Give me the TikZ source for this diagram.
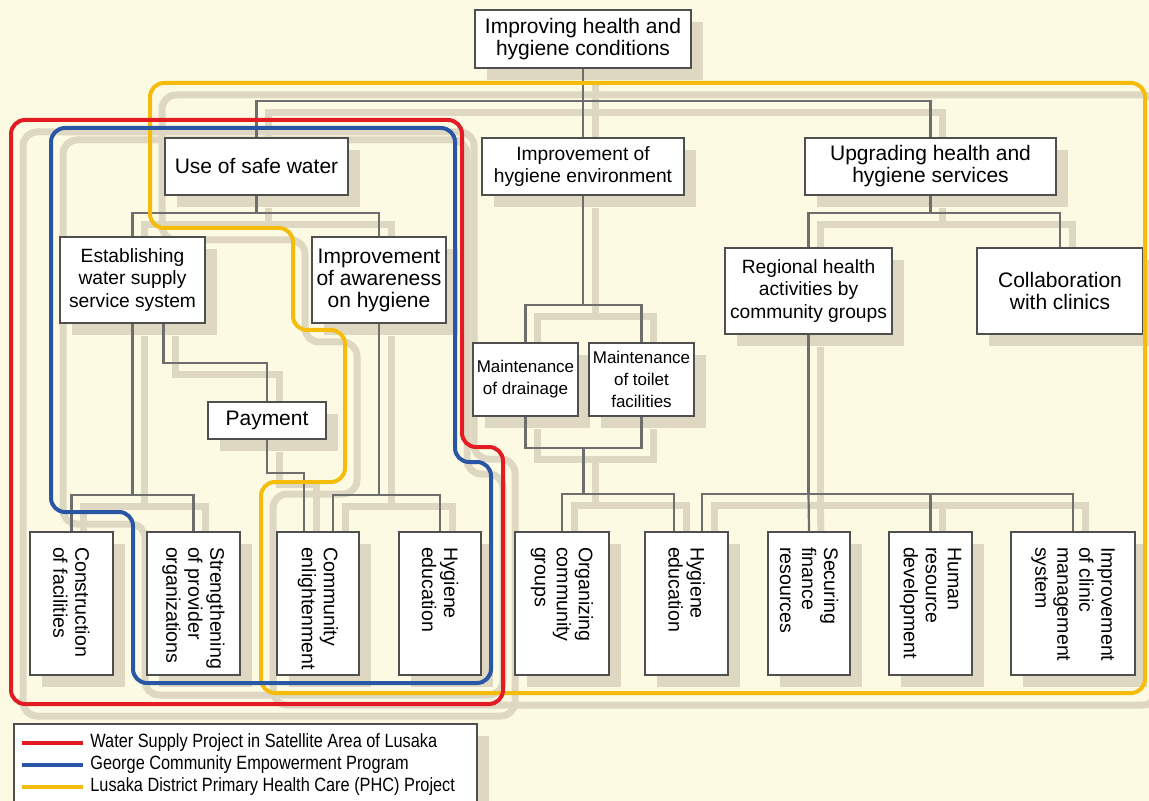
\documentclass[tikz,border=0pt]{standalone}
\usepackage{graphicx}
\usepackage{fontspec}
\setmainfont{Liberation Sans}
\newfontfamily\narrowfont{Liberation Sans}[FakeStretch=0.85]
\usetikzlibrary{calc,shadows}

\definecolor{cream}{HTML}{FDFAE4}
\definecolor{shade}{HTML}{DED8C3}
\definecolor{linkgray}{HTML}{6E6E6E}
\definecolor{boxgray}{HTML}{4F4F4F}
\definecolor{projred}{HTML}{E31B23}
\definecolor{projblue}{HTML}{2A56A6}
\definecolor{projyellow}{HTML}{F5BC0C}

\pgfdeclarelayer{back}
\pgfsetlayers{back,main}
\hyphenpenalty=10000

% text of the bottom boxes, turned
\newcommand{\leaftext}[1]{\rotatebox{-90}{\parbox{56.5pt}{\raggedright\fontsize{9.8}{11}\selectfont #1}}}

% tree connectors, #1 = style (shadow or line)
\newcommand{\treelinks}[1]{%
    % top level
    \draw[#1] (top.south) -- ++(0,32) coordinate (j0);
    \draw[#1] (safe.north) |- (j0) -| (upgrade.north);
    \draw[#1] (j0) -- (hygenv.north);
    % use of safe water
    \draw[#1] (safe.south) -- ++(0,17) coordinate (j1);
    \draw[#1] (estab.north) |- (j1) -| (aware.north);
    \draw[#1] (estab.south) -- ++(0,171) coordinate (j2);
    \draw[#1] (constr.north) |- (j2) -| (streng.north);
    \draw[#1] ($(estab.south)+(31,0)$) -- ++(0,39) -| (payment.north);
    \draw[#1] (payment.south) -- ++(0,33) -| ($(commun.north)+(-14,0)$);
    \draw[#1] (aware.south) -- ++(0,171) coordinate (j3);
    \draw[#1] ($(commun.north)+(15,0)$) |- (j3) -| (hyged1.north);
    % hygiene environment
    \draw[#1] (hygenv.south) -- ++(0,109) coordinate (j4);
    \draw[#1] (drain.north) |- (j4) -| (toilet.north);
    \coordinate (j5) at ($(drain.south)!0.5!(toilet.south)+(0,31)$);
    \draw[#1] (drain.south) |- (j5) -| (toilet.south);
    \draw[#1] (j5) -- ++(0,46) coordinate (j6);
    \draw[#1] (organ.north) |- (j6) -| ($(hyged2.north)+(-12.5,0)$);
    % health services
    \draw[#1] (upgrade.south) -- ++(0,17) coordinate (j7);
    \draw[#1] (regional.north) |- (j7) -| (collab.north);
    \draw[#1] (regional.south) -- ++(0,159) coordinate (j8);
    \draw[#1] ($(hyged2.north)+(15.5,0)$) |- (j8) -| (clinic.north);
    \draw[#1] (j8) -- (secur.north);
    \draw[#1] (human.north) -- (human.north |- j8);
}

% project outlines, #1 red #2 blue #3 yellow
\newcommand{\projectloops}[3]{%
    \draw[#3] (150,83) -- (1145,83) -- (1145,693) -- (261,693) -- (261,482) -- (345,482)
        -- (345,330) -- (293,330) -- (293,228) -- (150,228) -- cycle;
    \draw[#2] (51,128) -- (455,128) -- (455,462) -- (491,462) -- (491,683) -- (133,683)
        -- (133,512) -- (51,512) -- cycle;
    \draw[#1] (11,120) -- (462,120) -- (462,447) -- (503,447) -- (503,704) -- (11,704) -- cycle;
}

\begin{document}
\begin{tikzpicture}[x=0.5pt, y=-0.5pt,
    box/.style={draw=boxgray, fill=white, line width=0.7pt, inner sep=1pt, align=center,
        font=\fontsize{10.5}{11}\selectfont,
        drop shadow={shadow xshift=6pt, shadow yshift=-6pt, fill=shade, opacity=1}},
    smallbox/.style={font=\fontsize{9.6}{11.2}\selectfont},
    maintbox/.style={box, minimum width=52.5pt, minimum height=36.5pt,
        font=\fontsize{8.5}{11}\selectfont},
    leaf/.style={box, minimum height=71.5pt},
    legtext/.style={anchor=west, inner sep=1pt, font=\narrowfont\fontsize{9.6}{11}\selectfont},
    link/.style={draw=linkgray, line width=1.1pt},
    linkshade/.style={draw=shade, line width=3.5pt},
    loopshade/.style={draw=shade, line width=3.5pt, rounded corners=7pt},
    redloop/.style={draw=projred, line width=2pt, rounded corners=7pt},
    blueloop/.style={draw=projblue, line width=2pt, rounded corners=7pt},
    yellowloop/.style={draw=projyellow, line width=2pt, rounded corners=7pt}]

    \useasboundingbox (0,0) rectangle (1149,801);

    % Upper boxes
    \node[box, minimum width=108pt, minimum height=29pt] (top) at (583,39) {Improving health and\\hygiene conditions};
    \node[box, minimum width=91.5pt, minimum height=28.5pt] (safe) at (256.5,166.5) {Use of safe water};
    \node[box, smallbox, minimum width=101pt, minimum height=28.5pt] (hygenv) at (583,166.5) {Improvement of\\hygiene environment};
    \node[box, minimum width=125.5pt, minimum height=28.5pt] (upgrade) at (930.5,166.5) {Upgrading health and\\hygiene services};
    \node[box, smallbox, minimum width=72.5pt, minimum height=43pt] (estab) at (132.5,280) {Establishing\\water supply\\service system};
    \node[box, minimum width=67pt, minimum height=43pt] (aware) at (379,280) {Improvement\\of awareness\\on hygiene};
    \node[box, smallbox, minimum width=83.5pt, minimum height=43pt] (regional) at (808.5,291) {Regional health\\activities by\\community groups};
    \node[box, minimum width=83pt, minimum height=43pt] (collab) at (1060,291) {Collaboration\\with clinics};
    \node[maintbox] (drain) at (525.5,379.5) {Maintenance\\of drainage};
    \node[maintbox] (toilet) at (641.5,379.5) {Maintenance\\of toilet\\facilities};
    \node[box, minimum width=59pt, minimum height=18.5pt] (payment) at (267,420.5) {Payment};

    % Bottom row
    \node[leaf, minimum width=41.5pt] (constr) at (71.5,603.5) {\leaftext{Construction\\of facilities}};
    \node[leaf, minimum width=46.5pt] (streng) at (193.5,603.5) {\leaftext{Strengthening\\of provider\\organizations}};
    \node[leaf, minimum width=41pt] (commun) at (318,603.5) {\leaftext{Community\\enlightenment}};
    \node[leaf, minimum width=41pt] (hyged1) at (440,603.5) {\leaftext{Hygiene\\education}};
    \node[leaf, minimum width=47pt] (organ) at (562,603.5) {\leaftext{Organizing\\community\\groups}};
    \node[leaf, minimum width=41.5pt] (hyged2) at (686.5,603.5) {\leaftext{Hygiene\\education}};
    \node[leaf, minimum width=41pt] (secur) at (809,603.5) {\leaftext{Securing\\finance\\resources}};
    \node[leaf, minimum width=41.5pt] (human) at (930.5,603.5) {\leaftext{Human\\resource\\development}};
    \node[leaf, minimum width=62pt] (clinic) at (1073,603.5) {\leaftext{Improvement\\of clinic\\management\\system}};

    % Legend
    \node[box, minimum width=231.5pt, minimum height=53pt] (legend) at (245.5,777) {};
    \node[legtext] (lgred) at (88,743) {Water Supply Project in Satellite Area of Lusaka};
    \node[legtext] (lgblue) at (88,765) {George Community Empowerment Program};
    \node[legtext] (lgyellow) at (88,787) {Lusaka District Primary Health Care (PHC) Project};
    \draw[redloop] ($(lgred.west)+(-66,0)$) -- ($(lgred.west)+(-5,0)$);
    \draw[blueloop] ($(lgblue.west)+(-66,0)$) -- ($(lgblue.west)+(-5,0)$);
    \draw[yellowloop] ($(lgyellow.west)+(-66,0)$) -- ($(lgyellow.west)+(-5,0)$);

    % Background and shadows of the lines
    \begin{pgfonlayer}{back}
        \fill[cream] (0,0) rectangle (1149,801);
        \begin{scope}[transform canvas={shift={(12,12)}}]
            \treelinks{linkshade}
            \projectloops{loopshade}{loopshade}{loopshade}
        \end{scope}
    \end{pgfonlayer}

    % Connectors and project outlines
    \treelinks{link}
    \projectloops{redloop}{blueloop}{yellowloop}

\end{tikzpicture}
\end{document}
